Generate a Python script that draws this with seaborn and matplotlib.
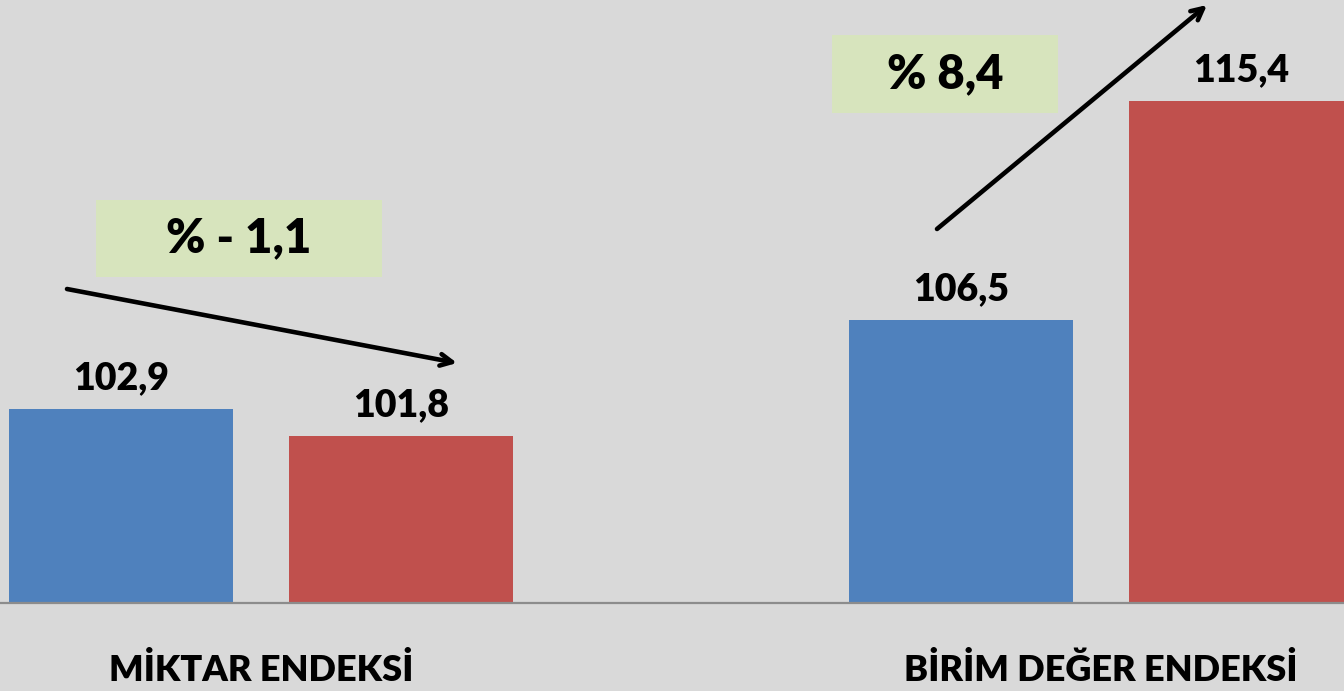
import matplotlib
matplotlib.use("Agg")
import matplotlib.pyplot as plt
import seaborn as sns
import pandas as pd

categories = ["MİKTAR ENDEKSİ", "BİRİM DEĞER ENDEKSİ"]
periods = ["Önceki", "Sonraki"]
values_prev = [102.9, 106.5]
values_next = [101.8, 115.4]
changes = ["% - 1,1", "% 8,4"]

df = pd.DataFrame({
    "kategori": categories * 2,
    "donem": [periods[0]] * 2 + [periods[1]] * 2,
    "deger": values_prev + values_next,
})

sns.set_theme(style="white")
plt.rcParams["font.family"] = ["Lato", "DejaVu Sans"]

bg = "#D9D9D9"
W_ = "heavy"
fig = plt.figure(figsize=(13.44, 6.91), dpi=100, facecolor=bg)
ax = fig.add_axes([0, 88 / 691, 1, 603 / 691])
ax.set_facecolor(bg)

sns.barplot(data=df, x="kategori", y="deger", hue="donem", order=categories,
            hue_order=periods, palette=["#4F81BD", "#C0504D"], width=0.667,
            gap=0.2, ax=ax, legend=False, saturation=1, linewidth=0)

ax.set_ylim(95, 95 + 603 / 24.6)
ax.set_xlim(-0.311, 1.289)

for cont in ax.containers:
    labels = [f"{v:.1f}".replace(".", ",") for v in cont.datavalues]
    ax.bar_label(cont, labels=labels, padding=10, fontsize=27, fontweight=W_,
                 color="black")

for s in ["top", "right", "left"]:
    ax.spines[s].set_visible(False)
ax.spines["bottom"].set_color("#8C8C8C")
ax.spines["bottom"].set_linewidth(1.6)
ax.set_yticks([])
ax.set_xlabel("")
ax.set_ylabel("")
ax.tick_params(axis="x", length=0, pad=36)
for t in ax.get_xticklabels():
    t.set_fontsize(26)
    t.set_fontweight(W_)
    t.set_color("black")

# change boxes and arrows (figure pixel coords -> fraction)
W, H = 1344, 691
def fx(x):
    return x / W
def fy(y):
    return 1 - y / H

boxes = [(96, 200, 382, 277), (832, 35, 1058, 113)]
for (x0, y0, x1, y1), txt in zip(boxes, changes):
    fig.patches.append(plt.Rectangle((fx(x0), fy(y1)), fx(x1) - fx(x0), fy(y0) - fy(y1),
                                     transform=fig.transFigure, facecolor="#D7E4BD",
                                     edgecolor="none", zorder=1))
    fig.text(fx((x0 + x1) / 2), fy((y0 + y1) / 2), txt, ha="center", va="center",
             fontsize=34, fontweight=W_, color="black")

arrows = [((67, 289), (457, 363)), ((937, 229), (1207, 5))]
for (s, e) in arrows:
    ax.annotate("", xy=(fx(e[0]), fy(e[1])), xytext=(fx(s[0]), fy(s[1])),
                xycoords="figure fraction", textcoords="figure fraction",
                arrowprops=dict(arrowstyle="->,head_length=0.7,head_width=0.35",
                                lw=3.3, color="black", shrinkA=0, shrinkB=0),
                annotation_clip=False)

fig.savefig("out.png", dpi=100, facecolor=bg)
